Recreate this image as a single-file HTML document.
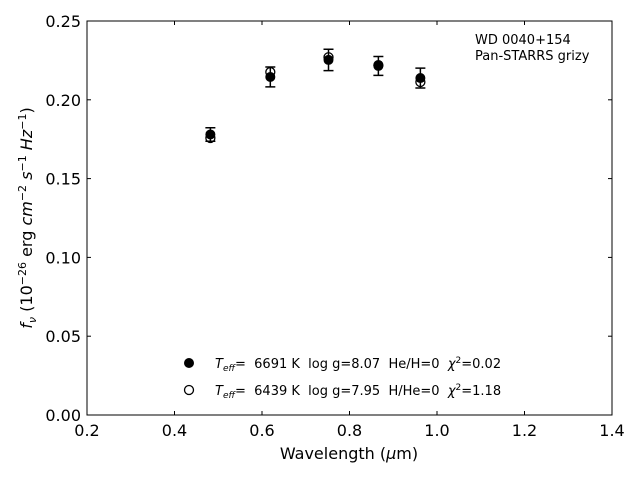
<!DOCTYPE html>
<html><head><meta charset="utf-8"><style>
body{margin:0;background:#fff}
svg{display:block;font-family:"DejaVu Sans","Liberation Sans",sans-serif}
text{white-space:pre}
</style></head><body>
<svg id="chart" width="640" height="480">
<rect x="0" y="0" width="640" height="480" fill="#fff"/>
<g id="plot"></g>
<rect x="87" y="21" width="525" height="394" fill="none" stroke="#000" stroke-width="1"/>
<text x="475" y="44" font-size="13">WD 0040+154</text>
<text x="475" y="60" font-size="13">Pan-STARRS grizy</text>
<text x="349" y="459" font-size="16" text-anchor="middle">Wavelength (<tspan font-style="italic">μ</tspan>m)</text>
<text transform="translate(32,218) rotate(-90)" font-size="16" text-anchor="middle"><tspan font-style="italic">f</tspan><tspan font-style="italic" font-size="11" dy="4">ν</tspan><tspan dy="-4"> (10</tspan><tspan font-size="11" dy="-6">−26</tspan><tspan dy="6"> erg </tspan><tspan font-style="italic">cm</tspan><tspan font-size="11" dy="-6">−2</tspan><tspan dy="6"> </tspan><tspan font-style="italic">s</tspan><tspan font-size="11" dy="-6">−1</tspan><tspan dy="6"> </tspan><tspan font-style="italic">Hz</tspan><tspan font-size="11" dy="-6">−1</tspan><tspan dy="6">)</tspan></text>
<g font-size="13">
<circle cx="189" cy="363" r="5" fill="#000"/>
<text x="215" y="368"><tspan font-style="italic">T</tspan><tspan font-style="italic" font-size="9" dy="3">eff</tspan><tspan dy="-3">=  6691 K  log g=8.07  He/H=0  </tspan><tspan font-style="italic">χ</tspan><tspan font-size="9" dy="-5">2</tspan><tspan dy="5">=0.02</tspan></text>
<circle cx="189" cy="390" r="4.5" fill="#fff" stroke="#000" stroke-width="1.3"/>
<text x="215" y="395"><tspan font-style="italic">T</tspan><tspan font-style="italic" font-size="9" dy="3">eff</tspan><tspan dy="-3">=  6439 K  log g=7.95  H/He=0  </tspan><tspan font-style="italic">χ</tspan><tspan font-size="9" dy="-5">2</tspan><tspan dy="5">=1.18</tspan></text>
</g>
</svg>
<script>
const wavelengths=[0.482,0.619,0.752,0.866,0.962];
const observed=[0.178,0.2145,0.2253,0.2215,0.2138];
const errors=[0.0043,0.0063,0.0068,0.006,0.0063];
const modelHe=[0.1758,0.2176,0.227,0.222,0.2113];
const xTicks=[0.2,0.4,0.6,0.8,1.0,1.2,1.4];
const xTickLabels=["0.2","0.4","0.6","0.8","1.0","1.2","1.4"];
const yTicks=[0,0.05,0.10,0.15,0.20,0.25];
const yTickLabels=["0.00","0.05","0.10","0.15","0.20","0.25"];
const NS="http://www.w3.org/2000/svg";
const g=document.getElementById('plot');
function X(v){return 87+(v-0.2)/1.2*525;}
function Y(v){return 415-v/0.25*394;}
function mk(t,a){const e=document.createElementNS(NS,t);for(const k in a)e.setAttribute(k,a[k]);g.appendChild(e);return e;}
xTicks.forEach((t,i)=>{
 const x=X(t);
 let l=mk('line',{x1:x,x2:x,y1:415,y2:411,stroke:'#000'});
 
 
 l=mk('line',{x1:x,x2:x,y1:21,y2:25,stroke:'#000'});
 
 
 const tx=mk('text',{x:x,y:436,'font-size':16,'text-anchor':'middle'});
 tx.textContent=xTickLabels[i];
 
 
});
yTicks.forEach((t,i)=>{
 const y=Y(t);
 let l=mk('line',{x1:87,x2:91,y1:y,y2:y,stroke:'#000'});
 
 
 l=mk('line',{x1:608,x2:612,y1:y,y2:y,stroke:'#000'});
 
 
 const tx=mk('text',{x:81,y:y+6,'font-size':16,'text-anchor':'end'});
 tx.textContent=yTickLabels[i];
 
 
});
wavelengths.forEach((w,i)=>{
 const x=X(w);
 const c=mk('circle',{cx:x,cy:Y(modelHe[i]),r:4.5,fill:'#fff',stroke:'#000','stroke-width':1.3});
 
 
});
wavelengths.forEach((w,i)=>{
 const x=X(w),t=Y(observed[i]+errors[i]),b=Y(observed[i]-errors[i]);
 const e=mk('path',{d:`M${x},${t}V${b}M${x-5},${t}H${x+5}M${x-5},${b}H${x+5}`,stroke:'#000','stroke-width':1.5,fill:'none'});
 
 
 const c=mk('circle',{cx:x,cy:Y(observed[i]),r:5,fill:'#000'});
 
 
});
</script>
</body></html>
